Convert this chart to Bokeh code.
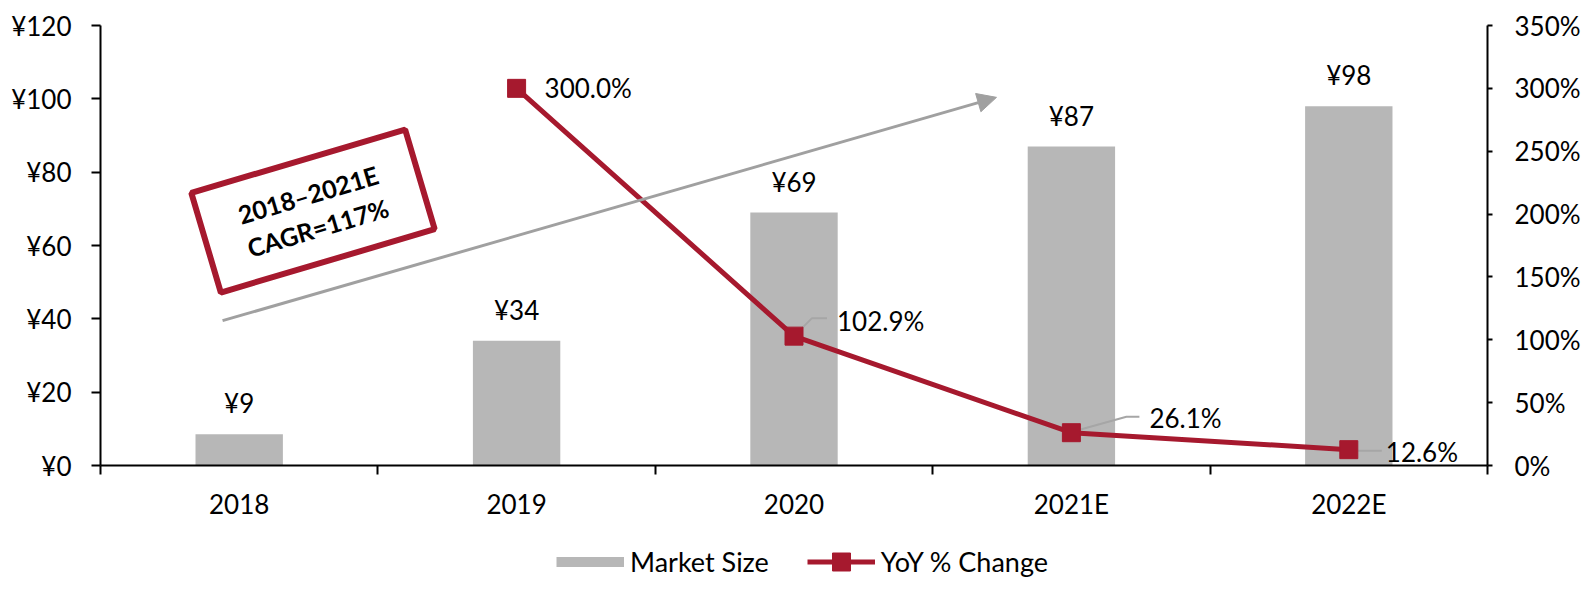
from bokeh.plotting import figure
from bokeh.layouts import column
from bokeh.models import (Range1d, LinearAxis, FixedTicker, CustomJSTickFormatter,
                          PrintfTickFormatter, Legend, LegendItem, Arrow, NormalHead,
                          ColumnDataSource)
from bokeh.core.properties import value
from bokeh.embed import file_html
from bokeh.resources import INLINE

# ---------------- data ----------------
categories = ["2018", "2019", "2020", "2021E", "2022E"]
market_size = [8.5, 34.0, 69.0, 87.0, 98.0]
market_labels = ["¥9", "¥34", "¥69", "¥87", "¥98"]
yoy_change = [float("nan"), 300.0, 102.9, 26.1, 12.6]
yoy_labels = ["", "300.0%", "102.9%", "26.1%", "12.6%"]
left_ticks = [0, 20, 40, 60, 80, 100, 120]
right_ticks = [0, 50, 100, 150, 200, 250, 300, 350]
series_names = ["Market Size", "YoY % Change"]
cagr_text = "2018–2021E\nCAGR=117%"

# ---------------- style ----------------
FONT = "Lato"
RED = "#A6192E"
BAR = "#B7B7B7"
LEADER = "#A6A6A6"
ARROW = "#A0A0A0"
FW, FH = 1387, 440
LMAX, RMAX = 120, 350
px_x = FW / len(categories)
px_pct = FH / RMAX

xc = [i + 0.5 for i in range(len(categories))]

p = figure(frame_width=FW, frame_height=FH,
           x_range=Range1d(0, len(categories)), y_range=Range1d(0, LMAX),
           output_backend="svg", toolbar_location=None,
           min_border_left=100, min_border_right=99, min_border_top=25,
           min_border_bottom=75)
p.extra_y_ranges = {"pct": Range1d(0, RMAX)}
p.xgrid.visible = False
p.ygrid.visible = False
p.outline_line_color = None
p.background_fill_color = "white"


def style_axis(ax):
    ax.axis_line_color = "black"
    ax.axis_line_width = 2
    ax.major_tick_line_color = "black"
    ax.major_tick_line_width = 2
    ax.major_tick_in = 0
    ax.major_label_text_font = FONT
    ax.major_label_text_font_size = "26px"
    ax.major_label_text_color = "black"


# x axis
xa = p.xaxis[0]
style_axis(xa)
xa.ticker = FixedTicker(ticks=xc, minor_ticks=list(range(len(categories) + 1)))
xa.formatter = CustomJSTickFormatter(args=dict(cats=categories), code="""
    const i = Math.floor(tick);
    return (i >= 0 && i < cats.length) ? cats[i] : '';
""")
xa.major_tick_out = 0
xa.minor_tick_out = 9
xa.minor_tick_in = 0
xa.minor_tick_line_color = "black"
xa.minor_tick_line_width = 2
xa.major_label_standoff = 13

# left axis
ya = p.yaxis[0]
style_axis(ya)
ya.ticker = FixedTicker(ticks=left_ticks)
ya.formatter = PrintfTickFormatter(format="¥%d")
ya.major_tick_out = 9
ya.minor_tick_line_color = None
ya.major_label_standoff = 20

# right axis
ra = LinearAxis(y_range_name="pct")
style_axis(ra)
ra.ticker = FixedTicker(ticks=right_ticks)
ra.formatter = PrintfTickFormatter(format="%d%%")
ra.major_tick_out = 5
ra.minor_tick_line_color = None
ra.major_label_standoff = 22
p.add_layout(ra, "right")

# bars
p.vbar(x=xc, top=market_size, width=0.315, fill_color=BAR, line_color=None)
p.text(x=xc, y=market_size, text=market_labels, text_align="center",
       text_baseline="middle", y_offset=-31, text_font=value(FONT),
       text_font_size="26px", text_color="black")

# growth arrow
p.add_layout(Arrow(end=NormalHead(size=19, fill_color=ARROW, line_color=ARROW),
                   x_start=0.44, y_start=39.5, x_end=3.23, y_end=100.4,
                   line_color=ARROW, line_width=3))

# CAGR box
box_x, box_y = 0.766, 69.4
p.rect(x=[box_x], y=[box_y], width=223, height=104, width_units="screen",
       height_units="screen", angle=16.5, angle_units="deg",
       fill_color="white", line_color=RED, line_width=6)
p.text(x=[box_x], y=[box_y], text=[cagr_text], angle=16.5, angle_units="deg",
       text_align="center", text_baseline="middle", text_font=value(FONT),
       text_font_style="bold", text_font_size="25px", text_color="black",
       text_line_height=1.15)

# leader lines (pixel offsets from each point)
leader_px = {2: [(2, -2), (18, -18), (33, -18)],
             3: [(1, -1), (55, -16), (68, -16)],
             4: [(9, 1), (33, 1)]}
lxs, lys = [], []
for i, pts in leader_px.items():
    lxs.append([xc[i] + dx / px_x for dx, dy in pts])
    lys.append([yoy_change[i] - dy / px_pct for dx, dy in pts])
p.multi_line(xs=lxs, ys=lys, line_color=LEADER, line_width=2, y_range_name="pct")

# YoY line
p.line(x=xc, y=yoy_change, line_color=RED, line_width=5, y_range_name="pct")
p.scatter(x=xc, y=yoy_change, marker="square", size=18, fill_color=RED,
          line_color=RED, y_range_name="pct")

lab_src = ColumnDataSource(dict(x=xc, y=[0 if v != v else v for v in yoy_change],
                                text=yoy_labels,
                                xo=[0, 28, 43, 78, 37], yo=[0, 0, -15, -15, 2]))
p.text(x="x", y="y", text="text", x_offset="xo", y_offset="yo", source=lab_src,
       text_align="left", text_baseline="middle", text_font=value(FONT),
       text_font_size="26px", text_color="black", y_range_name="pct")

# ---------------- legend strip ----------------
# (legend-only renderers: placed outside the strip's visible range)
lg = figure(width=1586, height=50, output_backend="svg", toolbar_location=None,
            min_border=0, x_range=Range1d(0, 1), y_range=Range1d(0, 1))
lg.axis.visible = False
lg.grid.visible = False
lg.outline_line_color = None
off = dict(x=[-5, -4], y=[-5, -4])
ms_r = lg.line(line_color=BAR, line_width=10, **off)
yl_r = lg.line(line_color=RED, line_width=5, **off)
ys_r = lg.scatter(marker="square", size=18, fill_color=RED, line_color=RED, **off)
legend = Legend(items=[LegendItem(label=series_names[0], renderers=[ms_r]),
                       LegendItem(label=series_names[1], renderers=[yl_r, ys_r])],
                orientation="horizontal", location=(456, 6),
                glyph_width=68, glyph_height=45, label_standoff=6, spacing=38,
                padding=0, margin=0, border_line_color=None,
                background_fill_alpha=0, label_text_font=FONT,
                label_text_font_size="27px", label_text_color="black")
lg.add_layout(legend, "center")

open("out.html", "w").write(file_html(column(p, lg, spacing=0), INLINE))
